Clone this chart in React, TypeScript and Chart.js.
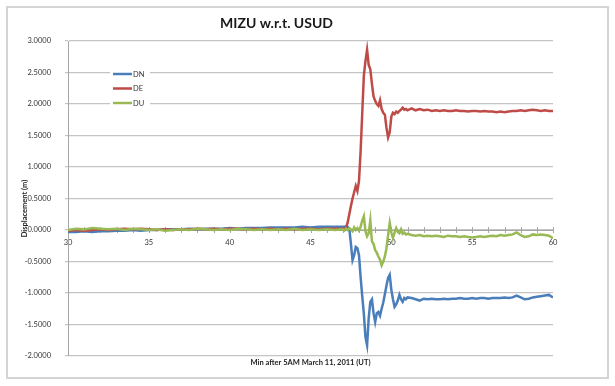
import { useEffect, useRef } from 'react';
import { Chart, registerables } from 'chart.js';

Chart.register(...registerables);

// Minutes after 5AM, March 11, 2011 (UT)
const times = [
  30, 30.5, 31, 31.5, 32, 32.5, 33, 33.5, 34, 34.5, 35, 35.5, 36, 36.5, 37, 37.5, 38, 38.5,
  39, 39.5, 40, 40.5, 41, 41.5, 42, 42.5, 43, 43.5, 44, 44.5, 45, 45.5, 46, 46.5,
  47, 47.1, 47.2, 47.3, 47.4, 47.5, 47.6, 47.7, 47.8, 47.9, 48, 48.1, 48.2, 48.3, 48.4, 48.5,
  48.6, 48.7, 48.8, 48.9, 49, 49.1, 49.2, 49.3, 49.4, 49.5, 49.6, 49.7, 49.8, 49.9, 50, 50.1,
  50.2, 50.3, 50.4, 50.5, 50.6, 50.7, 50.8, 50.9, 51,
  51.25, 51.5, 51.75, 52, 52.25, 52.5, 52.75, 53, 53.25, 53.5, 53.75, 54, 54.25, 54.5, 54.75,
  55, 55.25, 55.5, 55.75, 56, 56.25, 56.5, 56.75, 57, 57.25, 57.5, 57.75, 58, 58.25, 58.5,
  58.75, 59, 59.25, 59.5, 59.75, 60,
];

const dnValues = [
  -0.03, -0.03, -0.02, -0.03, -0.02, -0.02, -0.01, -0.01, 0.0, -0.01, 0.0, 0.0, 0.01, 0.01, 0.01, 0.02, 0.01, 0.02,
  0.02, 0.02, 0.03, 0.02, 0.03, 0.03, 0.03, 0.04, 0.04, 0.04, 0.04, 0.05, 0.04, 0.05, 0.05, 0.05,
  0.05, 0.05, 0.06, 0.05, 0.02, -0.22, -0.48, -0.4, -0.27, -0.29, -0.4, -0.75, -1.05, -1.33, -1.7, -1.83,
  -1.4, -1.14, -1.1, -1.32, -1.46, -1.32, -1.3, -1.36, -1.25, -1.15, -1.02, -0.88, -0.76, -0.71, -0.95, -1.1,
  -1.22, -1.18, -1.12, -1.03, -1.1, -1.14, -1.08, -1.1, -1.07,
  -1.08, -1.1, -1.12, -1.09, -1.1, -1.09, -1.1, -1.1, -1.09, -1.1, -1.09, -1.09, -1.08, -1.09, -1.09,
  -1.08, -1.09, -1.08, -1.08, -1.09, -1.08, -1.08, -1.08, -1.07, -1.08, -1.07, -1.04, -1.07, -1.1, -1.09,
  -1.07, -1.06, -1.05, -1.04, -1.03, -1.07,
];

const deValues = [
  -0.01, 0.0, -0.01, 0.0, 0.01, 0.0, 0.01, 0.02, 0.01, 0.02, 0.01, 0.0, 0.01, 0.0, 0.01, 0.01, 0.02, 0.01,
  0.02, 0.01, 0.02, 0.02, 0.01, 0.02, 0.01, 0.02, 0.01, 0.02, 0.01, 0.02, 0.02, 0.01, 0.02, 0.02,
  0.02, 0.02, 0.04, 0.12, 0.25, 0.38, 0.5, 0.6, 0.7, 0.62, 0.78, 1.25, 1.85, 2.45, 2.68, 2.86,
  2.62, 2.55, 2.32, 2.12, 2.05, 2.0, 1.97, 2.06, 1.92, 1.86, 1.83, 1.62, 1.47, 1.55, 1.8, 1.86,
  1.84, 1.88, 1.86, 1.89, 1.91, 1.94, 1.91, 1.92, 1.9,
  1.93, 1.9, 1.92, 1.9, 1.91, 1.89, 1.9, 1.89, 1.9, 1.89, 1.89, 1.9, 1.89, 1.89, 1.88,
  1.89, 1.89, 1.88, 1.89, 1.88, 1.88, 1.87, 1.88, 1.87, 1.88, 1.89, 1.89, 1.9, 1.89, 1.9,
  1.91, 1.9, 1.89, 1.9, 1.89, 1.89,
];

const duValues = [
  0.0, 0.02, 0.01, 0.03, 0.02, 0.01, 0.02, 0.0, 0.02, 0.01, 0.0, 0.01, -0.01, 0.0, 0.01, 0.0, 0.02, 0.01,
  0.0, 0.01, 0.0, 0.02, 0.01, 0.0, 0.01, 0.0, 0.01, 0.0, 0.02, 0.0, 0.01, 0.0, 0.01, 0.0,
  0.01, -0.01, 0.02, 0.0, 0.03, 0.01, -0.02, 0.04, 0.0, 0.03, -0.01, 0.05, 0.15, 0.22, -0.02, -0.1,
  -0.05, 0.15, -0.18, -0.22, -0.32, -0.36, -0.42, -0.47, -0.56, -0.5, -0.42, -0.29, -0.08, 0.11, -0.04, -0.13,
  -0.04, 0.03, -0.03, -0.05, 0.01, -0.06, -0.04, -0.07, -0.06,
  -0.08, -0.09, -0.08, -0.1, -0.09, -0.1, -0.09, -0.1, -0.11, -0.09, -0.1, -0.1, -0.11, -0.1, -0.11,
  -0.12, -0.11, -0.1, -0.11, -0.1, -0.09, -0.1, -0.08, -0.09, -0.08, -0.07, -0.04, -0.08, -0.11, -0.1,
  -0.07, -0.08, -0.07, -0.08, -0.09, -0.13,
];

const seriesNames = ['DN', 'DE', 'DU'];
const seriesColors = ['#4a7ebb', '#be4b48', '#98b954'];
const xLabelTicks = [30, 35, 40, 45, 50, 55, 60];
const yRange = [-2, 3];

const FONT = 'Lato, "Open Sans", sans-serif';

const decorPlugin = {
  id: 'decor',
  beforeDatasetsDraw(chart: any) {
    const { ctx, scales } = chart;
    const x = scales.x;
    const y = scales.y;
    const y0 = y.getPixelForValue(0);
    ctx.save();
    ctx.strokeStyle = '#a6a6a6';
    ctx.lineWidth = 1;
    x.ticks.forEach((t: any) => {
      const px = Math.round(x.getPixelForValue(t.value)) + 0.5;
      ctx.beginPath();
      ctx.moveTo(px, y0 - 3);
      ctx.lineTo(px, y0 + 3);
      ctx.stroke();
    });
    ctx.restore();
  },
  afterDraw(chart: any) {
    const { ctx, chartArea } = chart;
    const { left, top, bottom } = chartArea;
    ctx.save();
    // legend box
    ctx.fillStyle = '#ffffff';
    ctx.fillRect(left + 42, top + 25, 40, 45);
    ctx.font = `7.5px ${FONT}`;
    ctx.textBaseline = 'middle';
    ctx.textAlign = 'left';
    chart.data.datasets.forEach((ds: any, i: number) => {
      const yy = top + 33 + i * 14.5;
      ctx.strokeStyle = ds.borderColor;
      ctx.lineWidth = 2.5;
      ctx.beginPath();
      ctx.moveTo(left + 45, yy);
      ctx.lineTo(left + 64, yy);
      ctx.stroke();
      ctx.fillStyle = '#333333';
      ctx.fillText(ds.label, left + 65, yy + 0.5);
    });
    // y axis title
    ctx.translate(25, (top + bottom) / 2 + 10);
    ctx.rotate(-Math.PI / 2);
    ctx.font = `bold 7.5px ${FONT}`;
    ctx.textAlign = 'center';
    ctx.fillStyle = '#222222';
    ctx.fillText('Displacement (m)', 0, 0);
    ctx.restore();
  },
};

export default function App() {
  const ref = useRef<HTMLCanvasElement | null>(null);

  useEffect(() => {
    if (!ref.current) return;
    const values = [dnValues, deValues, duValues];
    const chart = new Chart(ref.current, {
      type: 'line',
      data: {
        datasets: seriesNames.map((name, i) => ({
          label: name,
          data: times.map((t, j) => ({ x: t, y: values[i][j] })),
          borderColor: seriesColors[i],
          backgroundColor: seriesColors[i],
          borderWidth: 2.5,
          pointRadius: 0,
          tension: 0,
          order: 3 - i,
        })),
      },
      options: {
        animation: false,
        responsive: false,
        layout: { padding: { left: 0, right: 62, top: 0, bottom: 0 } },
        plugins: {
          legend: { display: false },
          tooltip: { enabled: false },
          title: {
            display: true,
            text: 'MIZU w.r.t. USUD',
            color: '#1a1a1a',
            font: { family: FONT, size: 14, weight: 'bold' },
            padding: { top: 14.6, bottom: 9.6 },
          },
          subtitle: {
            display: true,
            position: 'bottom',
            fullSize: false,
            text: 'Min after 5AM March 11, 2011 (UT)',
            color: '#222222',
            font: { family: FONT, size: 7.5, weight: 'bold' },
            padding: { top: 2.5, bottom: 18.5 },
          },
        },
        scales: {
          x: {
            type: 'linear',
            min: xLabelTicks[0],
            max: xLabelTicks[xLabelTicks.length - 1],
            position: { y: 0 },
            afterFit(scale: any) {
              scale.height = 0;
            },
            ticks: {
              stepSize: 1,
              autoSkip: false,
              maxRotation: 0,
              padding: 4,
              color: '#333333',
              font: { family: FONT, size: 7.5 },
              callback: (v: any) => (xLabelTicks.includes(Number(v)) ? String(v) : ''),
            },
            grid: {
              display: true,
              drawOnChartArea: false,
              drawTicks: true,
              tickLength: 4,
              color: 'rgba(0,0,0,0)',
            },
            border: { display: true, color: '#a6a6a6', width: 1 },
          },
          y: {
            type: 'linear',
            min: yRange[0],
            max: yRange[1],
            afterFit(scale: any) {
              scale.width = 68;
            },
            ticks: {
              stepSize: 0.5,
              padding: 14,
              color: '#333333',
              font: { family: FONT, size: 7.5 },
              callback: (v: any) => Number(v).toFixed(4),
            },
            grid: {
              color: '#c4c4c4',
              lineWidth: 1.2,
              drawTicks: true,
              tickLength: 3,
            },
            border: { display: true, color: '#a6a6a6', width: 1 },
          },
        },
      },
      plugins: [decorPlugin],
    });
    return () => chart.destroy();
  }, []);

  return (
    <div style={{ position: 'fixed', left: 0, top: 0, width: 615, height: 386, background: '#ffffff' }}>
      <canvas ref={ref} width={615} height={386} style={{ position: 'absolute', left: 0, top: 0 }} />
      <div
        style={{
          position: 'absolute',
          left: 6,
          top: 6,
          width: 599,
          height: 369,
          border: '2px solid #d4d4d4',
          pointerEvents: 'none',
        }}
      />
    </div>
  );
}
